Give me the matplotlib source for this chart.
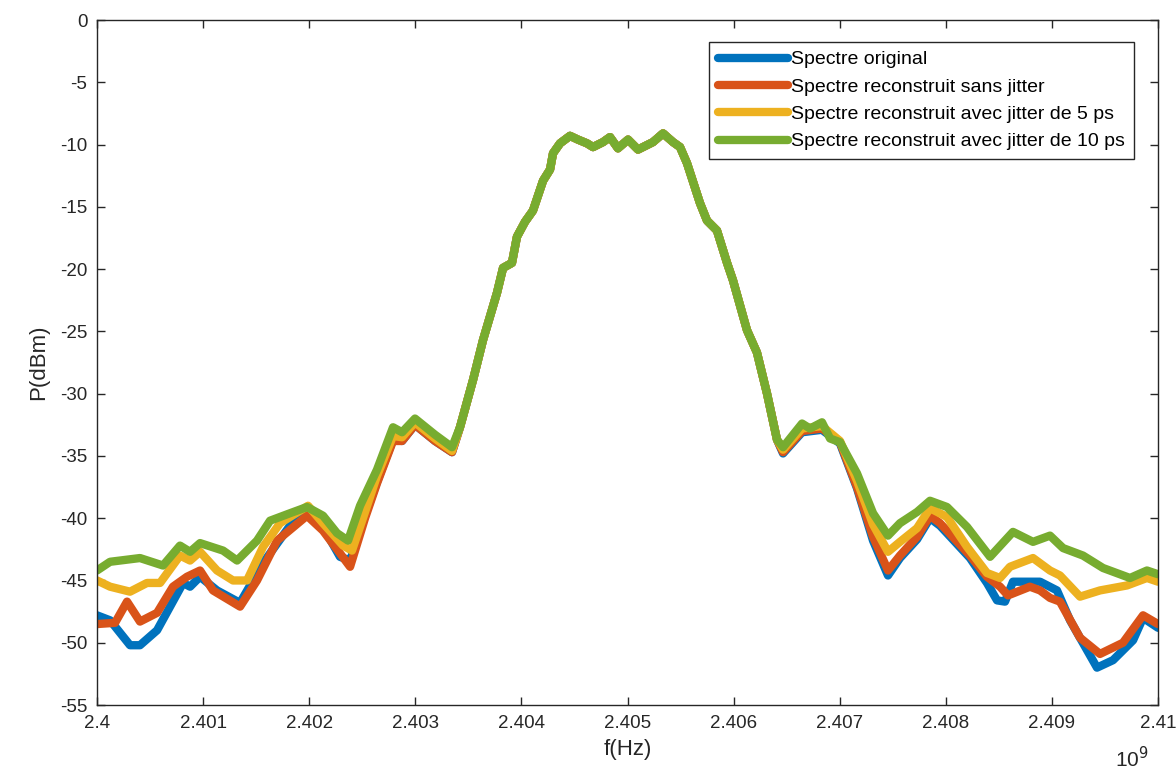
import numpy as np
import matplotlib
matplotlib.use("Agg")
import matplotlib.pyplot as plt
from matplotlib.ticker import FuncFormatter

plt.rcParams['font.family'] = ['Liberation Sans', 'DejaVu Sans']
plt.rcParams['axes.unicode_minus'] = False

# Frequencies are offsets in MHz from 2.4 GHz, power in dBm

# left tails (differ per series)
f_left_blue = [0.0, 0.123, 0.311, 0.405, 0.566, 0.811, 0.877, 0.971, 1.131, 1.348,
               1.565, 1.819, 1.979, 2.130, 2.290, 2.385, 2.526, 2.639, 2.790, 2.875,
               2.997, 3.186, 3.346]
p_left_blue = [-47.8, -48.2, -50.2, -50.2, -49.0, -45.2, -45.5, -44.7, -45.8, -46.8,
               -43.6, -40.6, -39.6, -40.7, -43.1, -43.4, -39.8, -37.1, -33.7, -33.8,
               -32.5, -33.8, -34.7]

f_left_red = [0.0, 0.170, 0.283, 0.405, 0.566, 0.716, 0.848, 0.971, 1.093, 1.348,
              1.508, 1.697, 1.979, 2.130, 2.385, 2.526, 2.639, 2.790, 2.875, 2.997,
              3.186, 3.346]
p_left_red = [-48.5, -48.4, -46.7, -48.3, -47.6, -45.5, -44.7, -44.2, -45.8, -47.1,
              -45.0, -41.8, -39.8, -41.0, -43.9, -40.0, -37.2, -33.8, -33.8, -32.5,
              -33.8, -34.7]

f_left_yellow = [0.0, 0.123, 0.311, 0.471, 0.594, 0.782, 0.877, 0.971, 1.131, 1.282,
                 1.414, 1.565, 1.725, 1.989, 2.130, 2.319, 2.403, 2.526, 2.639, 2.790,
                 2.875, 2.997, 3.186, 3.346]
p_left_yellow = [-45.0, -45.5, -45.9, -45.2, -45.2, -43.0, -43.4, -42.7, -44.2, -45.0,
                 -45.0, -42.3, -40.4, -39.0, -40.4, -42.2, -42.6, -39.5, -36.6, -33.4,
                 -33.5, -32.3, -33.6, -34.6]

f_left_green = [0.0, 0.123, 0.405, 0.622, 0.782, 0.877, 0.971, 1.188, 1.320, 1.508,
                1.631, 1.819, 1.979, 2.130, 2.262, 2.366, 2.479, 2.639, 2.790, 2.875,
                2.997, 3.186, 3.346]
p_left_green = [-44.2, -43.5, -43.2, -43.8, -42.2, -42.7, -42.0, -42.6, -43.4, -41.8,
                -40.2, -39.6, -39.1, -39.8, -41.2, -41.8, -39.0, -36.1, -32.7, -33.1,
                -32.0, -33.3, -34.3]

# main lobe (common to all series)
f_center = [3.421, 3.544, 3.638, 3.770, 3.827, 3.911, 3.958, 4.034, 4.109, 4.204,
            4.270, 4.298, 4.364, 4.458, 4.533, 4.618, 4.675, 4.769, 4.835, 4.910,
            5.005, 5.099, 5.240, 5.335, 5.429, 5.495, 5.561, 5.683, 5.749, 5.843,
            5.938, 5.994, 6.126, 6.220, 6.315, 6.409]
p_center = [-32.7, -28.9, -25.7, -21.9, -19.9, -19.5, -17.4, -16.2, -15.3, -12.9,
            -12.0, -10.7, -9.9, -9.3, -9.6, -9.9, -10.2, -9.8, -9.4, -10.3,
            -9.6, -10.4, -9.8, -9.1, -9.8, -10.2, -11.5, -14.7, -16.1, -16.9,
            -19.5, -20.9, -24.9, -26.7, -30.0, -33.7]

# right tails (differ per series)
f_right_blue = [6.466, 6.645, 6.833, 7.003, 7.163, 7.314, 7.455, 7.568, 7.729, 7.851,
                7.945, 8.011, 8.228, 8.388, 8.483, 8.558, 8.633, 8.888, 9.048, 9.171,
                9.425, 9.576, 9.765, 9.859, 10.0]
p_right_blue = [-34.8, -33.1, -32.9, -34.0, -37.6, -41.8, -44.6, -43.2, -41.7, -40.0,
                -40.6, -41.2, -43.2, -45.2, -46.6, -46.7, -45.1, -45.1, -45.8, -48.2,
                -52.0, -51.4, -49.8, -48.0, -48.8]

f_right_red = [6.466, 6.645, 6.833, 7.003, 7.163, 7.314, 7.455, 7.568, 7.729, 7.851,
               7.945, 8.011, 8.228, 8.388, 8.511, 8.586, 8.793, 8.888, 8.982, 9.076,
               9.265, 9.453, 9.670, 9.859, 10.0]
p_right_red = [-34.7, -33.0, -32.8, -33.9, -37.5, -41.5, -44.2, -43.0, -41.5, -39.8,
               -40.4, -41.0, -43.0, -44.7, -45.5, -46.2, -45.5, -45.8, -46.4, -46.7,
               -49.6, -50.9, -50.0, -47.8, -48.5]

f_right_yellow = [6.466, 6.645, 6.833, 7.003, 7.163, 7.314, 7.455, 7.568, 7.729, 7.851,
                  8.011, 8.200, 8.388, 8.511, 8.605, 8.822, 8.982, 9.076, 9.265, 9.453,
                  9.708, 9.896, 10.0]
p_right_yellow = [-34.5, -32.8, -32.6, -33.8, -37.0, -40.5, -42.7, -41.9, -40.8, -39.2,
                  -39.9, -42.3, -44.4, -44.8, -43.9, -43.2, -44.2, -44.6, -46.3, -45.8,
                  -45.4, -44.8, -45.1]

f_right_green = [6.466, 6.645, 6.720, 6.833, 6.909, 7.003, 7.163, 7.314, 7.455, 7.568,
                 7.729, 7.851, 8.011, 8.200, 8.417, 8.633, 8.822, 8.982, 9.105, 9.293,
                 9.482, 9.736, 9.896, 10.0]
p_right_green = [-34.3, -32.4, -32.8, -32.3, -33.6, -33.9, -36.4, -39.6, -41.4, -40.4,
                 -39.5, -38.6, -39.1, -40.7, -43.1, -41.1, -41.9, -41.4, -42.4, -43.0,
                 -44.0, -44.8, -44.2, -44.5]

labels = ["Spectre original",
          "Spectre reconstruit sans jitter",
          "Spectre reconstruit avec jitter de 5 ps",
          "Spectre reconstruit avec jitter de 10 ps"]
colors = ["#0072BD", "#D95319", "#EDB120", "#77AC30"]

series = [
    (f_left_blue, p_left_blue, f_right_blue, p_right_blue),
    (f_left_red, p_left_red, f_right_red, p_right_red),
    (f_left_yellow, p_left_yellow, f_right_yellow, p_right_yellow),
    (f_left_green, p_left_green, f_right_green, p_right_green),
]

fig = plt.figure(figsize=(11.76, 7.71), dpi=100)
ax = fig.add_axes([0.0825, 0.0856, 0.9022, 0.8884])

for (fl, pl, fr, pr), lab, col in zip(series, labels, colors):
    f = np.concatenate([fl, f_center, fr]) * 1e6 + 2.4e9
    p = np.concatenate([pl, p_center, pr])
    ax.plot(f, p, color=col, lw=6, label=lab, solid_joinstyle='round',
            solid_capstyle='round')

ax.set_xlim(2.4e9, 2.41e9)
ax.set_ylim(-55, 0)
ax.set_xticks(np.arange(2.4e9, 2.41e9 + 1, 1e6))
ax.set_yticks(np.arange(-55, 1, 5))
ax.xaxis.set_major_formatter(FuncFormatter(lambda v, pos: f"{v / 1e9:g}"))

dark = "#262626"
for s in ax.spines.values():
    s.set_color(dark)
    s.set_linewidth(1.0)
ax.tick_params(direction='in', length=6, width=1, colors=dark, labelsize=13.5,
               top=True, right=True, pad=7)

ax.set_xlabel("f(Hz)", fontsize=16, color=dark, labelpad=5)
ax.set_ylabel("P(dBm)", fontsize=16, color=dark, labelpad=8)
ax.text(0.975, -0.078, r"10$^9$", transform=ax.transAxes, fontsize=15, color=dark,
        ha='center', va='center')

leg = ax.legend(loc='upper right', bbox_to_anchor=(0.977, 0.968), fontsize=14,
                handlelength=3.6, handletextpad=0.15, borderpad=0.45,
                labelspacing=0.5, fancybox=False, framealpha=1, borderaxespad=0)
leg.get_frame().set_edgecolor(dark)
leg.get_frame().set_linewidth(1.0)

fig.savefig("out.png", dpi=100)
